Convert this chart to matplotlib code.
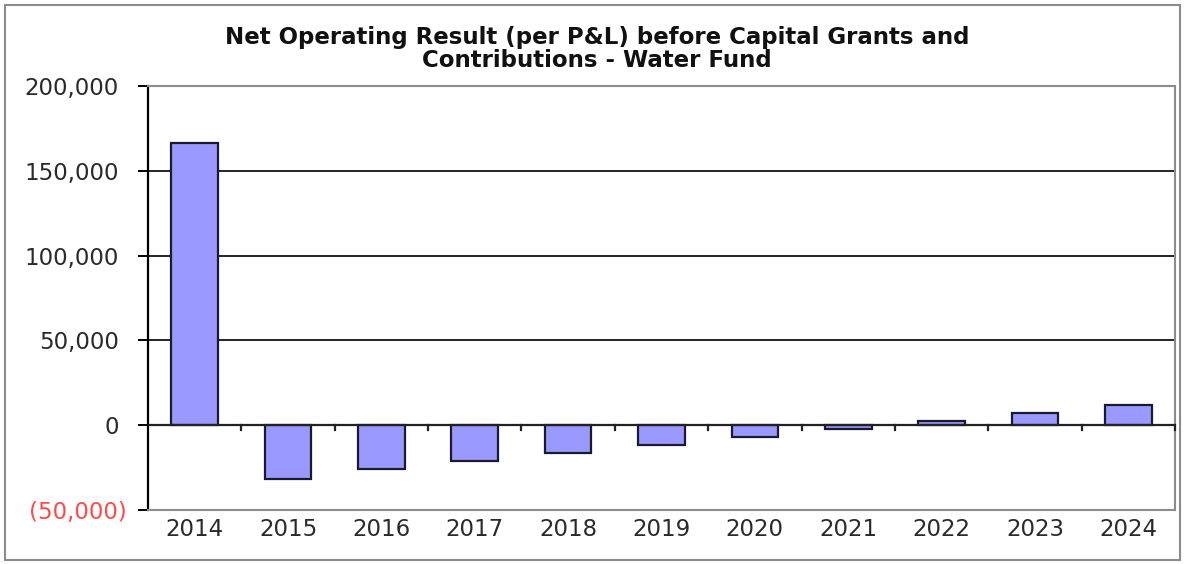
import matplotlib
matplotlib.use("Agg")
import matplotlib.pyplot as plt
import matplotlib.transforms as mtransforms
from matplotlib.patches import Rectangle
from matplotlib.ticker import FixedLocator, FuncFormatter

years = ["2014", "2015", "2016", "2017", "2018", "2019",
         "2020", "2021", "2022", "2023", "2024"]
net_result = [166500, -32000, -26100, -21200, -16300, -11500,
              -7100, -2500, 2200, 7100, 11800]
y_ticks = [-50000, 0, 50000, 100000, 150000, 200000]
title_text = ("Net Operating Result (per P&L) before Capital Grants and\n"
              "Contributions - Water Fund")

W, H = 1186, 564
plt.rcParams["font.family"] = ["DejaVu Sans"]
fig = plt.figure(figsize=(W / 100, H / 100), dpi=100)

# outer frame around the whole chart
fig.patches.append(Rectangle((5 / W, 4 / H), 1175 / W, 555 / H,
                             transform=fig.transFigure, fill=False,
                             edgecolor="#8c8c8c", linewidth=1.5))

ax = fig.add_axes([148 / W, 54 / H, 1027 / W, 424 / H])
x = list(range(len(years)))
ax.bar(x, net_result, width=0.5, color="#9999ff",
       edgecolor="#1a1a2e", linewidth=1.6, zorder=3)

ax.set_xlim(-0.5, len(years) - 0.5)
ax.set_ylim(y_ticks[0], y_ticks[-1])

# horizontal gridlines inside the plot area
for v in y_ticks[2:-1]:
    ax.axhline(v, color="black", linewidth=1.2, zorder=1)
ax.axhline(0, color="#222222", linewidth=1.6, zorder=4)

for side in ("top", "right", "bottom"):
    ax.spines[side].set_color("#8c8c8c")
    ax.spines[side].set_linewidth(1.5)
ax.spines["left"].set_color("black")
ax.spines["left"].set_linewidth(1.6)

ax.yaxis.set_major_locator(FixedLocator(y_ticks))


def fmt(v, _pos):
    if v < 0:
        return "({:,.0f})".format(-v)
    return "{:,.0f}".format(v)


ax.yaxis.set_major_formatter(FuncFormatter(fmt))
ax.tick_params(axis="y", direction="out", length=7, width=1.4,
               labelsize=16.5, pad=14, colors="black", labelcolor="#2a2a2a")

# negative values in red, with the closing parenthesis hanging past the digits
hang = mtransforms.ScaledTranslation(8 / 100, 0, fig.dpi_scale_trans)
for lbl, v in zip(ax.get_yticklabels(), y_ticks):
    if v < 0:
        lbl.set_color("#ff4a4a")
        lbl.set_transform(lbl.get_transform() + hang)

ax.set_xticks(x)
ax.set_xticklabels(years)
ax.tick_params(axis="x", length=0, labelsize=16.5, pad=6, labelcolor="#2a2a2a")

# category separator ticks hanging below the zero line
for i in range(1, len(years) + 1):
    ax.plot([i - 0.5, i - 0.5], [0, -3000], color="#222222",
            linewidth=1.6, zorder=4, clip_on=False)

fig.text(597 / W, 1 - 49 / H, title_text, ha="center", va="center",
         fontsize=16.5, fontweight="bold", color="#111111",
         linespacing=1.03)

fig.savefig("out.png", dpi=100)
